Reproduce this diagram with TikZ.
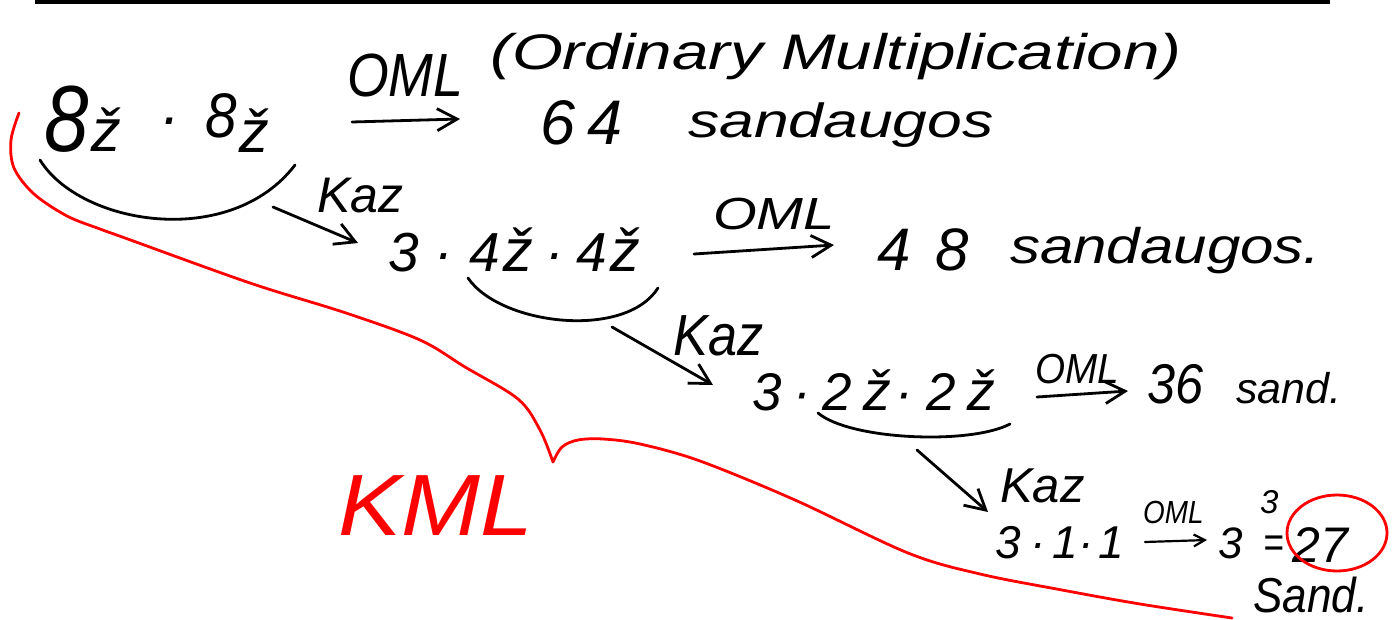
\documentclass[tikz,border=0pt]{standalone}
\usepackage{fontspec}
\usepackage{graphicx}
\newfontfamily\hw{Liberation Sans}
\usetikzlibrary{arrows.meta}
\newcommand\fs[1]{\fontsize{#1}{#1}\selectfont}
\newcommand\sx[2]{\scalebox{#1}[1]{#2}}
\begin{document}
\begin{tikzpicture}[x=1pt,y=-1pt,
  hw/.style={font=\hw\itshape, inner sep=0pt, anchor=base west},
  ink/.style={line width=2.8pt, line cap=round, line join=round},
  arr/.style={ink, -{Straight Barb[length=20pt,width=22pt,line width=2.8pt]}},
  arrsmall/.style={ink, line width=2.2pt, -{Straight Barb[length=11pt,width=12pt,line width=2.2pt]}},
  redink/.style={red, line width=2.8pt, line cap=round, line join=round}]
\useasboundingbox (0,0) rectangle (1399,620);
\fill[white] (0,0) rectangle (1399,620);
% top rule
\draw[line width=4pt] (35,2) -- (1330,2);

% row 1
\node[hw] (e1) at (44,152) {\sx{0.85}{\fs{94}8}\hspace{3pt}{\fs{60}ž}\hspace{38pt}\raisebox{14pt}{\fs{60}·}\hspace{26pt}\raisebox{14pt}{\sx{0.9}{\fs{63}8}}\hspace{2pt}\raisebox{-1pt}{\fs{60}ž}};
\node[hw] (oml1) at (347,97) {\fs{61}\sx{0.88}{OML}};
\node[hw] (ord) at (490,70) {\fs{50}\sx{1.31}{(Ordinary Multiplication)}};
\node[hw] (n64) at (540,145) {\fs{63}6\hspace{12pt}4};
\node[hw] (s64) at (688,138) {\fs{48}\sx{1.3}{sandaugos}};

% row 2
\node[hw] (kaz1) at (317,213) {\fs{50}Kaz};
\node[hw] (e2) at (388,272) {\fs{55}3\hspace{16pt}·\hspace{16pt}4\hspace{4pt}{\fs{60}ž}\hspace{12pt}·\hspace{12pt}4\hspace{4pt}{\fs{60}ž}};
\node[hw] (oml2) at (713,230) {\fs{45}\sx{1.25}{OML}};
\node[hw] (n48) at (877,270) {\fs{60}4\hspace{25pt}8};
\node[hw] (s48) at (1010,263) {\fs{50}\sx{1.2}{sandaugos.}};

% row 3
\node[hw] (kaz2) at (673,355) {\fs{58}\sx{0.9}{Kaz}};
\node[hw] (e3) at (752,410) {\fs{53}3\hspace{12pt}·\hspace{11pt}2\hspace{12pt}{\fs{56}ž}\hspace{4pt}·\hspace{13pt}2\hspace{12pt}{\fs{56}ž}};
\node[hw] (oml3) at (1035,383) {\fs{42}\sx{0.92}{OML}};
\node[hw] (n36) at (1147,403) {\fs{56}\sx{0.9}{36}};
\node[hw] (s36) at (1236,403) {\fs{43}sand.};

% row 4
\node[hw] (kaz3) at (1000,502) {\fs{49}Kaz};
\node[hw] (e4) at (995,558) {\fs{46}3\hspace{10pt}·\hspace{6pt}1\hspace{1pt}·\hspace{5pt}1};
\node[hw] (oml4) at (1143,523) {\fs{32}\sx{0.87}{OML}};
\node[hw] (n3) at (1218,558) {\fs{44}3};
\node[hw] (sup3) at (1260,513) {\fs{33}3};
\node[hw] (eq) at (1263,557) {\fs{44}\sx{0.8}{=}};
\node[hw] (n27) at (1292,562) {\fs{50}27};
\node[hw] (sand4) at (1253,612) {\fs{49}\sx{0.9}{Sand.}};
\node[hw, text=red] (kml) at (338,535) {\fs{87}\sx{1.09}{KML}};

% underbraces (curves)
\coordinate (c1a) at (40,160); \coordinate (c1b) at (295,165);
\coordinate (c2a) at (468,278); \coordinate (c2b) at (658,288);
\coordinate (c3a) at (818,413); \coordinate (c3b) at (1010,424);
\draw[ink] (c1a) .. controls (80,225) and (230,250) .. (c1b);
\draw[ink] (c2a) .. controls (500,325) and (625,340) .. (c2b);
\draw[ink] (c3a) .. controls (850,440) and (970,445) .. (c3b);

% arrows
\coordinate (a1s) at (352,122); \coordinate (a1e) at (460,119);
\coordinate (k1s) at (273,207); \coordinate (k1e) at (358,243);
\coordinate (a2s) at (694,254); \coordinate (a2e) at (834,245);
\coordinate (k2s) at (612,327); \coordinate (k2e) at (713,385);
\coordinate (a3s) at (1037,397); \coordinate (a3e) at (1128,391);
\coordinate (k3s) at (917,450); \coordinate (k3e) at (988,512);
\coordinate (a4s) at (1145,542); \coordinate (a4e) at (1207,540);
\draw[arr] (a1s) -- (a1e);
\draw[arr] (k1s) -- (k1e);
\draw[arr] (a2s) -- (a2e);
\draw[arr] (k2s) -- (k2e);
\draw[arr] (a3s) -- (a3e);
\draw[arr] (k3s) -- (k3e);
\draw[arrsmall] (a4s) -- (a4e);

% red circle round 27
\draw[redink] (1337,533) ellipse [x radius=50, y radius=38];

% red brace
\draw[redink] plot[smooth, tension=0.55] coordinates {(19,113) (11,140) (14,168) (34,194) (67,216) (100,229) (125,238) (250,283) (346,313) (420,340) (465,367) (518,399) (540,430) (553,462)};
\draw[redink] plot[smooth, tension=0.55] coordinates {(553,462) (562,447) (578,440) (603,439) (640,444) (700,461) (795,500) (908,553) (980,574) (1062,590) (1140,604) (1232,618)};
\end{tikzpicture}
\end{document}
